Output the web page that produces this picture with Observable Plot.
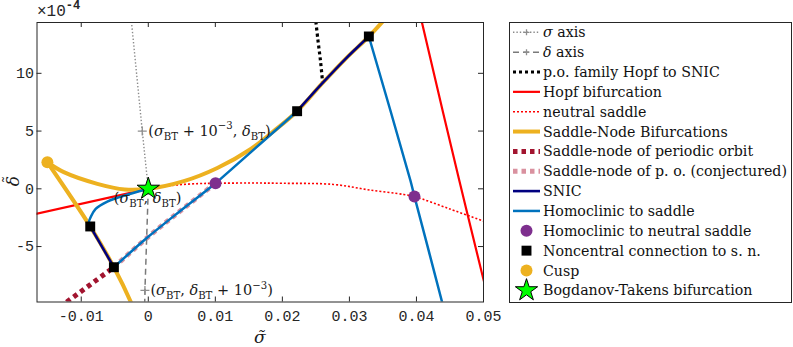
<!DOCTYPE html>
<html><head><meta charset="utf-8">
<script src="https://cdn.jsdelivr.net/npm/d3@7"></script>
<script src="https://cdn.jsdelivr.net/npm/@observablehq/plot@0.6"></script>
<style>body{margin:0;background:#fff} svg{display:block}</style>
</head><body><div id="chart"></div>
<script>
// ---- data (x = sigma~, y = delta~ in units of 1e-4) ----
const xTicks = [-0.01, 0, 0.01, 0.02, 0.03, 0.04, 0.05];
const xTickLabels = ["-0.01", "0", "0.01", "0.02", "0.03", "0.04", "0.05"];
const yTicks = [-5, 0, 5, 10];
const yTickLabels = ["-5", "0", "5", "10"];

const sigmaAxis = [[0, 0], [-0.0009, 5], [-0.0026, 15]];
const deltaAxis = [[0, 0], [-0.0005, -8.8], [-0.00055, -10.5]];
const axisMarkers = [[-0.0009, 5], [-0.0005, -8.8]];
const poFamily = [[0.0249, 15], [0.0253, 12.9], [0.0257, 11], [0.0260, 9.18]];
const hopfLeft = [[-0.0175, -2.27], [0, 0]];
const hopfRight = [[0.0406, 15], [0.04082, 14.4], [0.04639, 0.72], [0.04997, -7.79], [0.0502, -8.3]];
const neutralSaddle = [[0, 0], [0.004, 0.32], [0.0075, 0.45], [0.01003, 0.48], [0.015, 0.5], [0.02, 0.48], [0.0276, 0.38], [0.033, -0.1], [0.0381, -0.49], [0.0397, -0.67], [0.045, -1.75], [0.0505, -2.9]];
const snUpper = [[-0.01505, 2.3], [-0.0126, 1.44], [-0.0076, 0.43], [-0.0035, -0.06], [0, 0], [0.0053, 0.66], [0.0103, 1.8], [0.0153, 3.45], [0.0185, 4.9], [0.0222, 6.72], [0.0259, 9.1], [0.0295, 11.3], [0.0329, 13.19], [0.0353, 14.7]];
const snLower = [[-0.01505, 2.3], [-0.00866, -3.26], [-0.00513, -6.79], [-0.00264, -9.76], [-0.00228, -10.3]];
const snpo = [[-0.0131, -10.3], [-0.01207, -9.76], [-0.00513, -6.79]];
const snpoConjectured = [[-0.00513, -6.79], [-0.0001, -4.2], [0.0048, -1.9], [0.01003, 0.48]];
const snicUpper = [[0.0222, 6.72], [0.0259, 9.1], [0.0295, 11.3], [0.0329, 13.19]];
const snicLower = [[-0.00866, -3.26], [-0.00513, -6.79]];
const homoclinicBT = [[0, 0], [-0.00264, -0.43], [-0.00611, -1.1], [-0.00785, -1.73], [-0.0086, -2.46], [-0.00885, -2.89], [-0.00866, -3.26]];
const homoclinicMid = [[-0.00513, -6.79], [-0.0001, -4.2], [0.0048, -1.9], [0.01003, 0.48], [0.01227, 1.62], [0.0222, 6.72]];
const homoclinicRight = [[0.0329, 13.19], [0.0391, 0.72], [0.0397, -0.67], [0.0438, -9.76], [0.0440, -10.3]];
const neutralHomPoints = [[0.01003, 0.48], [0.0397, -0.67]];
const noncentralPoints = [[-0.00866, -3.26], [-0.00513, -6.79], [0.0222, 6.72], [0.0329, 13.19]];
const cuspPoints = [[-0.01505, 2.3]];
const btPoints = [[0, 0]];

const legendLabels = ["σ axis", "δ axis", "p.o. family Hopf to SNIC", "Hopf bifurcation", "neutral saddle",
  "Saddle-Node Bifurcations", "Saddle-node of periodic orbit", "Saddle-node of p. o. (conjectured)", "SNIC",
  "Homoclinic to saddle", "Homoclinic to neutral saddle", "Noncentral connection to s. n.", "Cusp", "Bogdanov-Takens bifurcation"];

// ---- layout ----
const W = 793, H = 347;
const mL = 36.5, mR = 310, mT = 22, mB = 45.5;
const fW = W - mL - mR, fH = H - mT - mB;

const L = (data, o) => Plot.line(data, {x: d => d[0], y: d => d[1], clip: true, strokeLinecap: "butt", strokeLinejoin: "round", ...o});
const D = (data, o) => Plot.dot(data, {x: d => d[0], y: d => d[1], ...o});

const plot = Plot.plot({
  width: W, height: H,
  marginLeft: mL, marginRight: mR, marginTop: mT, marginBottom: mB,
  x: {domain: [-0.0166, 0.05]},
  y: {domain: [-9.8, 14.4]},
  style: {background: "white", overflow: "visible"},
  marks: [
    L(sigmaAxis, {stroke: "#8a8a8a", strokeWidth: 1.4, strokeDasharray: "1.4,2"}),
    L(deltaAxis, {stroke: "#7a7a7a", strokeWidth: 1.5, strokeDasharray: "6,4"}),
    D(axisMarkers, {symbol: "plus", stroke: "#8e8e8e", strokeWidth: 1.3, r: 3}),
    L(poFamily, {stroke: "black", strokeWidth: 3.2, strokeDasharray: "3,3", curve: "catmull-rom"}),
    L(hopfLeft, {stroke: "#ff0000", strokeWidth: 2.2}),
    L(hopfRight, {stroke: "#ff0000", strokeWidth: 2.2, curve: "catmull-rom"}),
    L(neutralSaddle, {stroke: "#ff0000", strokeWidth: 1.6, strokeDasharray: "2,2", curve: "catmull-rom"}),
    L(snUpper, {stroke: "#EDB120", strokeWidth: 4, curve: "catmull-rom"}),
    L(snLower, {stroke: "#EDB120", strokeWidth: 4, curve: "catmull-rom"}),
    L(snpo, {stroke: "#A2142F", strokeWidth: 5, strokeDasharray: "4.5,4"}),
    L(snpoConjectured, {stroke: "#d9919f", strokeWidth: 5, strokeDasharray: "4.5,4", curve: "catmull-rom"}),
    L(snicUpper, {stroke: "#000080", strokeWidth: 2.6, curve: "catmull-rom"}),
    L(snicLower, {stroke: "#000080", strokeWidth: 2.6}),
    L(homoclinicBT, {stroke: "#0072BD", strokeWidth: 2.5, curve: "catmull-rom"}),
    L(homoclinicMid, {stroke: "#0072BD", strokeWidth: 2.5, curve: "catmull-rom"}),
    L(homoclinicRight, {stroke: "#0072BD", strokeWidth: 2.5, curve: "catmull-rom"}),
    D(neutralHomPoints, {fill: "#7E2F8E", r: 6}),
    D(noncentralPoints, {symbol: "square", fill: "black", r: 5.6}),
    D(cuspPoints, {fill: "#EDB120", r: 6}),
    D(btPoints, {symbol: "star", fill: "#00ff00", stroke: "black", strokeWidth: 1, r: 7}),
    Plot.frame({stroke: "#262626", strokeWidth: 1}),
    Plot.ruleX(xTicks, {x: d => d, insetTop: fH - 5, stroke: "#262626"}),
    Plot.ruleX(xTicks, {x: d => d, insetBottom: fH - 5, stroke: "#262626"}),
    Plot.ruleY(yTicks, {y: d => d, insetRight: fW - 5, stroke: "#262626"}),
    Plot.ruleY(yTicks, {y: d => d, insetLeft: fW - 5, stroke: "#262626"}),
    Plot.axisX(xTicks, {tickSize: 0, tickPadding: 8.5, tickFormat: (d, i) => xTickLabels[i], fontSize: 15, fontFamily: "Liberation Mono", fill: "#262626"}),
    Plot.axisY(yTicks, {tickSize: 0, tickPadding: 3, tickFormat: (d, i) => yTickLabels[i], fontSize: 15, fontFamily: "Liberation Mono", fill: "#262626"})
  ]
});
document.getElementById("chart").appendChild(plot);

const svg = d3.select(plot);
const sx = plot.scale("x"), sy = plot.scale("y");
const X = v => sx.apply(v), Y = v => sy.apply(v);

function rich(g, x, y, parts, size, fill = "#1a1a1a") {
  const t = g.append("text").attr("x", x).attr("y", y).attr("text-anchor", "start")
    .attr("font-family", "DejaVu Serif").attr("font-size", size).attr("fill", fill);
  let cur = 0;
  for (const [s, kind] of parts) {
    const target = kind === "sub" ? size * 0.28 : kind === "sup" ? -size * 0.42 : 0;
    const sp = t.append("tspan").text(s).attr("dy", target - cur);
    cur = target;
    if (kind === "sub" || kind === "sup") sp.attr("font-size", size * 0.7);
    if (kind === "i") sp.attr("font-style", "italic");
  }
  return t;
}

// annotations
const ann = svg.append("g");
const fs = 14.5;
rich(ann, X(axisMarkers[0][0]) + 6.5, Y(axisMarkers[0][1]) + 5,
  [["(", null], ["σ", "i"], ["BT", "sub"], [" + 10", null], ["−3", "sup"], [", ", null], ["δ", "i"], ["BT", "sub"], [")", null]], fs);
rich(ann, X(btPoints[0][0]) - 34, Y(btPoints[0][1]) + 15,
  [["(", null], ["σ", "i"], ["BT", "sub"], [", ", null], ["δ", "i"], ["BT", "sub"], [")", null]], fs);
rich(ann, X(axisMarkers[1][0]) + 6, Y(axisMarkers[1][1]) + 5,
  [["(", null], ["σ", "i"], ["BT", "sub"], [", ", null], ["δ", "i"], ["BT", "sub"], [" + 10", null], ["−3", "sup"], [")", null]], fs);

// axis labels
svg.append("text").attr("x", mL + fW / 2).attr("y", 343).attr("text-anchor", "middle")
  .attr("font-family", "DejaVu Serif").attr("font-style", "italic").attr("font-size", 17).attr("fill", "#1a1a1a").text("σ\u0303");
const yl = svg.append("g").attr("transform", "translate(19,181) rotate(-90)");
yl.append("text").attr("x", 0).attr("y", 0).attr("text-anchor", "middle")
  .attr("font-family", "DejaVu Serif").attr("font-style", "italic").attr("font-size", 17).attr("fill", "#1a1a1a").text("δ");
yl.append("text").attr("x", 1.5).attr("y", -5).attr("text-anchor", "middle")
  .attr("font-family", "DejaVu Serif").attr("font-size", 14).attr("fill", "#1a1a1a").text("\u02DC");
const exp = svg.append("text").attr("x", 37).attr("y", 16).attr("text-anchor", "start").attr("font-family", "Liberation Mono").attr("font-size", 16).attr("fill", "#262626");
exp.append("tspan").text("×10");
exp.append("tspan").text("-4").attr("dy", -7).attr("font-size", 12).attr("font-weight", "bold");

// legend
const lg = svg.append("g");
lg.append("rect").attr("x", 509.5).attr("y", 22.5).attr("width", 282).attr("height", 280)
  .attr("fill", "white").attr("stroke", "#262626").attr("stroke-width", 1);
const x1 = 513, x2 = 540, cx = 526.5, tx = 543;
const rowY = i => 32.3 + i * 19.85;
const seg = (i, o) => {
  const l = lg.append("line").attr("x1", x1).attr("x2", x2).attr("y1", rowY(i)).attr("y2", rowY(i)).attr("fill", "none");
  for (const k in o) l.attr(k, o[k]);
};
const sym = (i, type, r, fill, stroke) => {
  lg.append("path").attr("transform", `translate(${cx},${rowY(i)})`)
    .attr("d", d3.symbol(type, r * r * Math.PI)()).attr("fill", fill || "none")
    .attr("stroke", stroke || "none").attr("stroke-width", 1);
};
const plus = i => lg.append("path").attr("d", `M${cx - 3},${rowY(i)}H${cx + 3}M${cx},${rowY(i) - 3}V${rowY(i) + 3}`).attr("stroke", "#8e8e8e").attr("stroke-width", 1.3);
seg(0, {stroke: "#8a8a8a", "stroke-width": 1.4, "stroke-dasharray": "1.4,2"});
plus(0);
seg(1, {stroke: "#7a7a7a", "stroke-width": 1.5, "stroke-dasharray": "6,4"});
plus(1);
seg(2, {stroke: "black", "stroke-width": 3.2, "stroke-dasharray": "3,3"});
seg(3, {stroke: "#ff0000", "stroke-width": 2.2});
seg(4, {stroke: "#ff0000", "stroke-width": 1.6, "stroke-dasharray": "2,2"});
seg(5, {stroke: "#EDB120", "stroke-width": 4});
seg(6, {stroke: "#A2142F", "stroke-width": 5, "stroke-dasharray": "4.5,4"});
seg(7, {stroke: "#d9919f", "stroke-width": 5, "stroke-dasharray": "4.5,4"});
seg(8, {stroke: "#000080", "stroke-width": 2.6});
seg(9, {stroke: "#0072BD", "stroke-width": 2.5});
sym(10, d3.symbolCircle, 6, "#7E2F8E");
sym(11, d3.symbolSquare, 5.6, "black");
sym(12, d3.symbolCircle, 6, "#EDB120");
sym(13, d3.symbolStar, 7, "#00ff00", "black");

legendLabels.forEach((lab, i) => {
  let parts;
  if (i === 0) parts = [["σ", "i"], [lab.slice(1), null]];
  else if (i === 1) parts = [["δ", "i"], [lab.slice(1), null]];
  else parts = [[lab, null]];
  rich(lg, tx, rowY(i) + 5, parts, 14.2, "#111");
});
</script>
</body></html>
